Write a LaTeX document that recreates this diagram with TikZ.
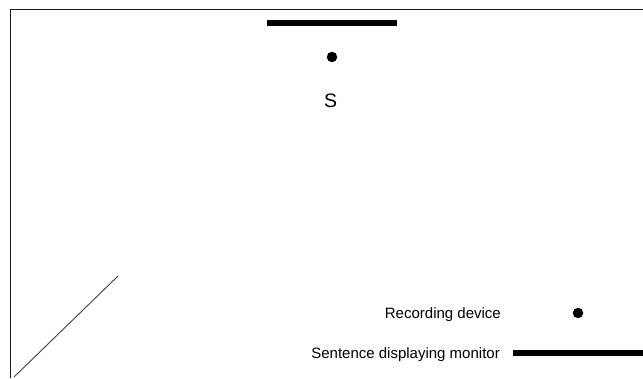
\documentclass[tikz,border=0pt]{standalone}
\usepackage{fontspec}
\setmainfont{Liberation Sans}
\begin{document}
\begin{tikzpicture}[x=1pt,y=-1pt,
  frame/.style={line width=1pt,black!90},
  monitor/.style={line width=6pt,black},
  device/.style={circle,fill=black,inner sep=0pt,minimum size=10.5pt},
  legendtext/.style={font=\fontsize{15}{18}\selectfont,inner sep=0pt},
  speaker/.style={font=\fontsize{19.5}{23}\selectfont,inner sep=0pt}]
  \useasboundingbox (0,0) rectangle (643,378);
  % room walls
  \draw[frame] (643,9.5) -- (10.5,9.5) -- (10.5,378);
  % door
  \draw[line width=0.9pt,black!75] (14,377) -- (118,276);
  % monitor, recording device and speaker position
  \draw[monitor] (267,22.5) -- (397,22.5);
  \node[device] (rec) at (332,57) {};
  \node[speaker,anchor=base] (spk) at (330.5,107) {S};
  % legend
  \node[device] (recleg) at (578,313) {};
  \node[legendtext,anchor=base east] (reclab) at (501,318) {Recording device};
  \node[legendtext,anchor=base east] (monlab) at (500,358) {Sentence displaying monitor};
  \draw[monitor] (513,353) -- (643,353);
\end{tikzpicture}
\end{document}
